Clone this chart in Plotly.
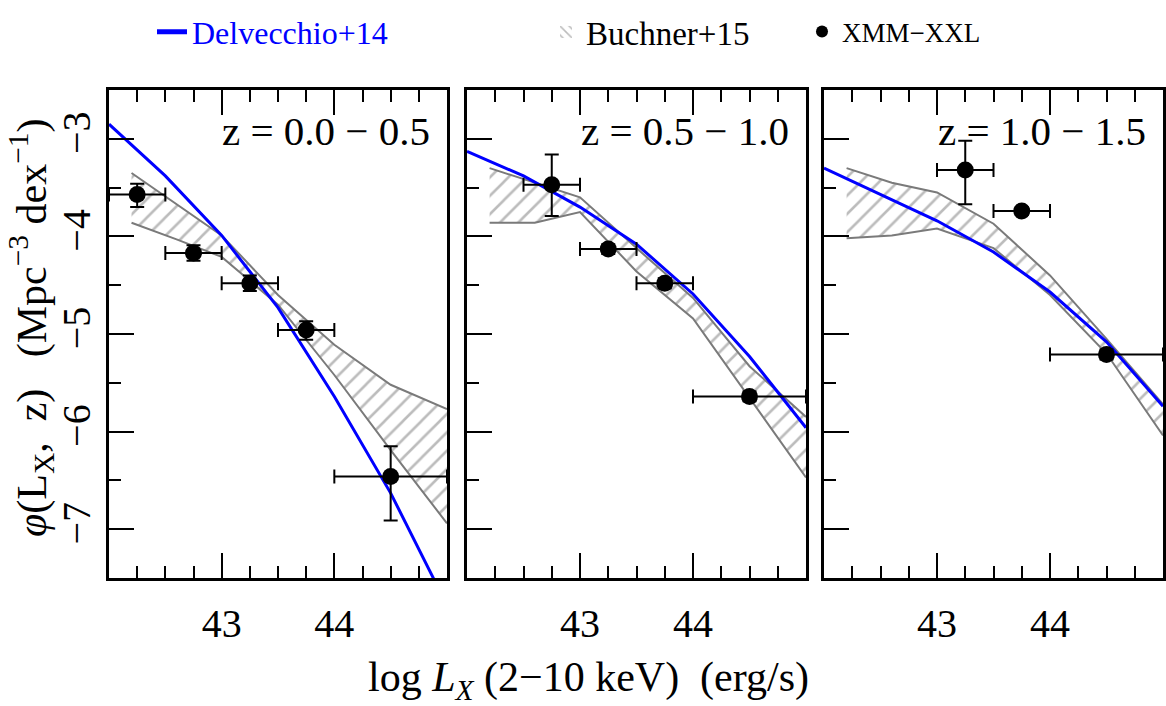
import plotly.graph_objects as go
from plotly.subplots import make_subplots

# redshift bins
z_labels = ["z = 0.0 − 0.5", "z = 0.5 − 1.0", "z = 1.0 − 1.5"]

# Delvecchio+14 model (log Lx, log phi)
dv_x = [42.0, 42.5, 43.0, 43.5, 44.0, 44.5, 45.0]
dv_y_1 = [-2.85, -3.38, -3.99, -4.73, -5.64, -6.63, -7.78]
dv_y_2 = [-3.13, -3.38, -3.70, -4.08, -4.59, -5.23, -5.96]
dv_y_3 = [-3.30, -3.57, -3.84, -4.16, -4.57, -5.08, -5.74]

# Buchner+15 band (upper / lower edge)
bu_x = [42.2, 42.6, 43.0, 43.5, 44.0, 44.5, 45.0]
bu_hi_1 = [-3.35, -3.67, -3.99, -4.60, -5.11, -5.52, -5.77]
bu_lo_1 = [-3.86, -4.03, -4.21, -4.70, -5.42, -6.19, -6.94]
bu_hi_2 = [-3.30, -3.45, -3.60, -4.12, -4.63, -5.33, -5.85]
bu_lo_2 = [-3.86, -3.86, -3.75, -4.36, -4.84, -5.66, -6.47]
bu_hi_3 = [-3.30, -3.45, -3.55, -3.87, -4.40, -5.05, -5.72]
bu_lo_3 = [-4.02, -3.99, -3.92, -4.12, -4.60, -5.20, -6.04]

# XMM-XXL points
xmm_x_1 = [42.25, 42.75, 43.25, 43.75, 44.5]
xmm_y_1 = [-3.57, -4.17, -4.48, -4.96, -6.46]
xmm_xerr_1 = [0.25, 0.25, 0.25, 0.25, 0.5]
xmm_yup_1 = [0.11, 0.08, 0.08, 0.09, 0.31]
xmm_ylo_1 = [0.13, 0.08, 0.08, 0.10, 0.45]

xmm_x_2 = [42.75, 43.25, 43.75, 44.5]
xmm_y_2 = [-3.47, -4.13, -4.48, -5.64]
xmm_xerr_2 = [0.25, 0.25, 0.25, 0.5]
xmm_yup_2 = [0.31, 0.05, 0.05, 0.05]
xmm_ylo_2 = [0.32, 0.05, 0.05, 0.05]

xmm_x_3 = [43.25, 43.75, 44.5]
xmm_y_3 = [-3.32, -3.74, -5.21]
xmm_xerr_3 = [0.25, 0.25, 0.5]
xmm_yup_3 = [0.30, 0.04, 0.05]
xmm_ylo_3 = [0.35, 0.04, 0.05]

# y ticks: every half dex, labels on whole dex
y_tickvals = [-7.5, -7.0, -6.5, -6.0, -5.5, -5.0, -4.5, -4.0, -3.5, -3.0, -2.5]
y_ticktext = ["", "−7", "", "−6", "", "−5", "", "−4", "", "−3", ""]
y_major = [-7, -6, -5, -4, -3]

FONT = "Liberation Serif"
GREY = "#7a7a7a"

fig = make_subplots(rows=1, cols=3)

panels = [
    (dv_y_1, bu_hi_1, bu_lo_1, xmm_x_1, xmm_y_1, xmm_xerr_1, xmm_yup_1, xmm_ylo_1),
    (dv_y_2, bu_hi_2, bu_lo_2, xmm_x_2, xmm_y_2, xmm_xerr_2, xmm_yup_2, xmm_ylo_2),
    (dv_y_3, bu_hi_3, bu_lo_3, xmm_x_3, xmm_y_3, xmm_xerr_3, xmm_yup_3, xmm_ylo_3),
]

for i, (dv_y, hi, lo, px, py, pxe, pyu, pyl) in enumerate(panels):
    col = i + 1
    first = i == 0
    # hatched band: upper edge then lower edge filled to it
    fig.add_trace(go.Scatter(x=bu_x, y=hi, mode="lines", line=dict(color=GREY, width=2),
                             showlegend=False, hoverinfo="skip"), row=1, col=col)
    fig.add_trace(go.Scatter(x=bu_x, y=lo, mode="lines", line=dict(color=GREY, width=2),
                             fill="tonexty", fillcolor="rgba(0,0,0,0)",
                             fillpattern=dict(shape="/", fgcolor=GREY, bgcolor="rgba(0,0,0,0)",
                                              size=13, solidity=0.2),
                             showlegend=False),
                  row=1, col=col)
    fig.add_trace(go.Scatter(x=dv_x, y=dv_y, mode="lines", line=dict(color="#0000ff", width=3),
                             name='<span style="color:#0000ff">Delvecchio+14</span>',
                             legend="legend", showlegend=first), row=1, col=col)
    fig.add_trace(go.Scatter(x=px, y=py, mode="markers",
                             marker=dict(color="black", size=17),
                             error_x=dict(type="data", array=pxe, color="black", thickness=2, width=7),
                             error_y=dict(type="data", symmetric=False, array=pyu, arrayminus=pyl,
                                          color="black", thickness=2, width=7),
                             name="XMM−XXL", legend="legend3", showlegend=first),
                  row=1, col=col)

# legend key for the hatched band
fig.add_trace(go.Bar(x=[None], y=[None], name="Buchner+15", legend="legend2",
                     marker=dict(color="rgba(0,0,0,0)", line=dict(width=0),
                                 pattern=dict(shape="\\", fgcolor=GREY, bgcolor="rgba(0,0,0,0)",
                                              size=8, solidity=0.25))),
              row=1, col=1)

x_domains = [[109 / 1166, 447 / 1166], [467 / 1166, 806 / 1166], [824 / 1166, 1163 / 1166]]
y_domain = [1 - 578 / 706, 1 - 90 / 706]

x_minor = dict(ticks="inside", ticklen=12, tickwidth=2, tickcolor="black", dtick=0.25, tick0=42)

for i in range(3):
    fig.update_xaxes(
        domain=x_domains[i], range=[42, 45], tickvals=[43, 44], ticktext=["43", "44"],
        ticks="inside", ticklen=25, tickwidth=2, tickcolor="black",
        minor=x_minor, showline=True, linewidth=2.5, linecolor="black", mirror="ticks",
        showgrid=False, zeroline=False, ticklabelstandoff=8,
        tickfont=dict(family=FONT, size=40, color="black"),
        row=1, col=i + 1)
    # short ticks every half dex on the main y axis
    fig.update_yaxes(
        domain=y_domain, range=[-7.5, -2.5], tickvals=y_tickvals, ticktext=y_ticktext,
        ticks="inside", ticklen=12, tickwidth=2, tickcolor="black",
        showline=True, linewidth=2.5, linecolor="black", mirror=True,
        showgrid=False, zeroline=False, showticklabels=(i == 0), tickangle=-90,
        tickfont=dict(family=FONT, size=40, color="black"),
        row=1, col=i + 1)

# long ticks on whole dex: overlaid y axes on the left side of each panel
long_axes = {}
for i in range(3):
    xa = "x" if i == 0 else f"x{i + 1}"
    base = "y" if i == 0 else f"y{i + 1}"
    long_axes[f"yaxis{i + 4}"] = dict(
        overlaying=base, anchor=xa, side="left", range=[-7.5, -2.5], tickvals=y_major,
        ticks="inside", ticklen=25, tickwidth=2, tickcolor="black",
        showticklabels=False, showline=False, showgrid=False, zeroline=False)
    fig.add_trace(go.Scatter(x=[None], y=[None], xaxis=xa, yaxis=f"y{i + 4}",
                             showlegend=False, hoverinfo="skip"))
fig.update_layout(**long_axes)

# panel labels
for i, lab in enumerate(z_labels):
    xr = "x domain" if i == 0 else f"x{i + 1} domain"
    yr = "y domain" if i == 0 else f"y{i + 1} domain"
    fig.add_annotation(text=lab, xref=xr, yref=yr, x=0.955, y=0.915, xanchor="right",
                       yanchor="middle", showarrow=False,
                       font=dict(family=FONT, size=41, color="black"))

# axis titles
fig.add_annotation(text="log <i>L</i><sub><i>X</i></sub> (2−10 keV)  (erg/s)",
                   xref="paper", yref="paper", x=588 / 1166, y=1 - 680 / 706,
                   xanchor="center", yanchor="middle", showarrow=False,
                   font=dict(family=FONT, size=42, color="black"))
fig.add_annotation(text="<i>φ</i>(L<sub>X</sub>,  z)   (Mpc<sup>−3</sup> dex<sup>−1</sup>)",
                   xref="paper", yref="paper", x=31 / 1166, y=1 - 328 / 706, textangle=-90,
                   xanchor="center", yanchor="middle", showarrow=False,
                   font=dict(family=FONT, size=42, color="black"))

leg_common = dict(orientation="h", yanchor="middle", xanchor="left", bgcolor="rgba(0,0,0,0)",
                  borderwidth=0, itemsizing="constant")
fig.update_layout(
    width=1166, height=706,
    margin=dict(l=0, r=0, t=0, b=0, autoexpand=False),
    paper_bgcolor="white", plot_bgcolor="white",
    legend=dict(x=152 / 1166, y=1 - 32 / 706, font=dict(family=FONT, size=32), **leg_common),
    legend2=dict(x=546 / 1166, y=1 - 32 / 706, font=dict(family=FONT, size=33, color="black"),
                 **leg_common),
    legend3=dict(x=802 / 1166, y=1 - 32 / 706, font=dict(family=FONT, size=27, color="black"),
                 **leg_common),
)

fig.write_html("out.html", config={"displayModeBar": False},
               post_script="document.body.style.margin='0';")
